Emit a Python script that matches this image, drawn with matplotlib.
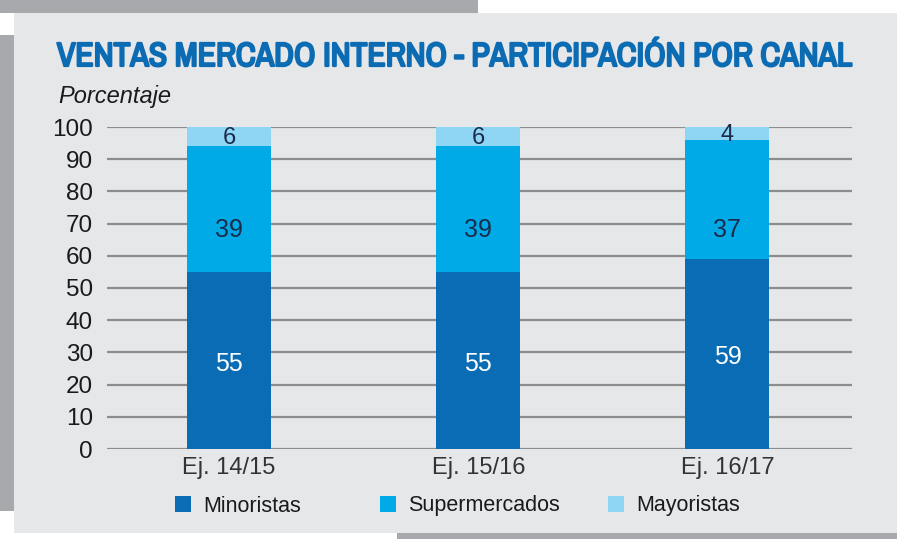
import matplotlib
matplotlib.use("Agg")
import matplotlib.pyplot as plt
from matplotlib.patches import Rectangle
from matplotlib import font_manager
import matplotlib.patheffects as pe
import numpy as np

# datos
periodos = ["Ej. 14/15", "Ej. 15/16", "Ej. 16/17"]
minoristas = [55, 55, 59]
supermercados = [39, 39, 37]
mayoristas = [6, 6, 4]
canales = ["Minoristas", "Supermercados", "Mayoristas"]
yticks = [0, 10, 20, 30, 40, 50, 60, 70, 80, 90, 100]

W, H = 897, 539
plt.rcParams['font.family'] = ['Liberation Sans', 'DejaVu Sans']

# buscar una fuente condensada para el titulo, si hay
angostas = sorted({f.name for f in font_manager.fontManager.ttflist
                   if "Condensed" in f.name or "Narrow" in f.name})
fuente_titulo = angostas[0] if angostas else "Liberation Sans"

fig = plt.figure(figsize=(W / 100, H / 100), dpi=100)
fig.patch.set_facecolor("white")


def caja(x0, y0, x1, y1, color):
    # rectangulo en pixeles (origen arriba a la izquierda)
    fig.add_artist(Rectangle((x0 / W, 1 - y1 / H), (x1 - x0) / W, (y1 - y0) / H,
                             transform=fig.transFigure, facecolor=color,
                             edgecolor="none", zorder=0))


# fondo del recuadro
caja(0, 0, 478, 13, "#a7a9ac")
caja(0, 35, 14, 511, "#a7a9ac")
caja(397, 533, 897, 539, "#a7a9ac")
caja(14, 13, 897, 533, "#e6e7e9")

# ejes: x 107-852, y 127-449
ax = fig.add_axes([107 / W, 1 - 449 / H, (852 - 107) / W, (449 - 127) / H])
ax.set_facecolor("none")

colores = ["#0a6cb5", "#00aae7", "#8fd6f4"]
x = np.arange(len(periodos))
ancho = 0.337
b1 = ax.bar(x, minoristas, ancho, color=colores[0], zorder=3, label=canales[0])
b2 = ax.bar(x, supermercados, ancho, bottom=minoristas, color=colores[1], zorder=3, label=canales[1])
base3 = [a + b for a, b in zip(minoristas, supermercados)]
b3 = ax.bar(x, mayoristas, ancho, bottom=base3, color=colores[2], zorder=3, label=canales[2])

for i in range(len(periodos)):
    ax.text(x[i], minoristas[i] / 2 - 1, str(minoristas[i]), ha="center", va="center",
            color="white", fontsize=18, zorder=4)
    ax.text(x[i], 68, str(supermercados[i]),
            ha="center", va="center", color="#1c2b4a", fontsize=18, zorder=4)
    ax.text(x[i], base3[i] + mayoristas[i] / 2 - 0.5, str(mayoristas[i]),
            ha="center", va="center", color="#1c2b4a", fontsize=17, zorder=4)

ax.set_ylim(0, 100)
ax.set_xlim(-0.49, 2.5)
ax.set_yticks(yticks)
ax.set_xticks(x)
ax.set_xticklabels(periodos)
ax.grid(axis="y", color="#8c8c8c", linewidth=1.6, zorder=1)
ax.set_axisbelow(True)
for s in ax.spines.values():
    s.set_visible(False)
ax.tick_params(axis="both", length=0, labelsize=17.5, colors="#1a1a1a")
ax.tick_params(axis="y", pad=10)
ax.tick_params(axis="x", labelsize=17, pad=6, labelcolor="#333333")
ax.margins(y=0)

# titulo, ajustado al ancho 57-853 px
titulo = fig.text(57 / W, 1 - 57 / H, "VENTAS MERCADO INTERNO - PARTICIPACIÓN POR CANAL",
                  ha="left", va="center", fontsize=30, fontweight="bold", color="#0b6bb3",
                  family=[fuente_titulo, "DejaVu Sans"])
titulo.set_path_effects([pe.withStroke(linewidth=1.6, foreground="#0b6bb3")])
r = fig.canvas.get_renderer()
ancho_px = titulo.get_window_extent(r).width
titulo.set_fontsize(min(30 * 794 / ancho_px, 32))

fig.text(58 / W, 1 - 97 / H, "Porcentaje", ha="left", va="center",
         fontsize=17, style="italic", color="#1a1a1a")

# leyenda: una entrada por canal, en su posicion
pos_leyenda = [175, 380, 608]
for h, nombre, px in zip([b1, b2, b3], canales, pos_leyenda):
    leg = fig.legend(handles=[h], labels=[nombre], frameon=False,
                     loc="center left", bbox_to_anchor=(px / W, 1 - 506 / H),
                     fontsize=15.5, handlelength=0.75, handleheight=0.75,
                     handletextpad=0.55, borderpad=0, borderaxespad=0)
    for t in leg.get_texts():
        t.set_color("#1a1a1a")

fig.savefig("out.png", dpi=100, facecolor=fig.get_facecolor())
